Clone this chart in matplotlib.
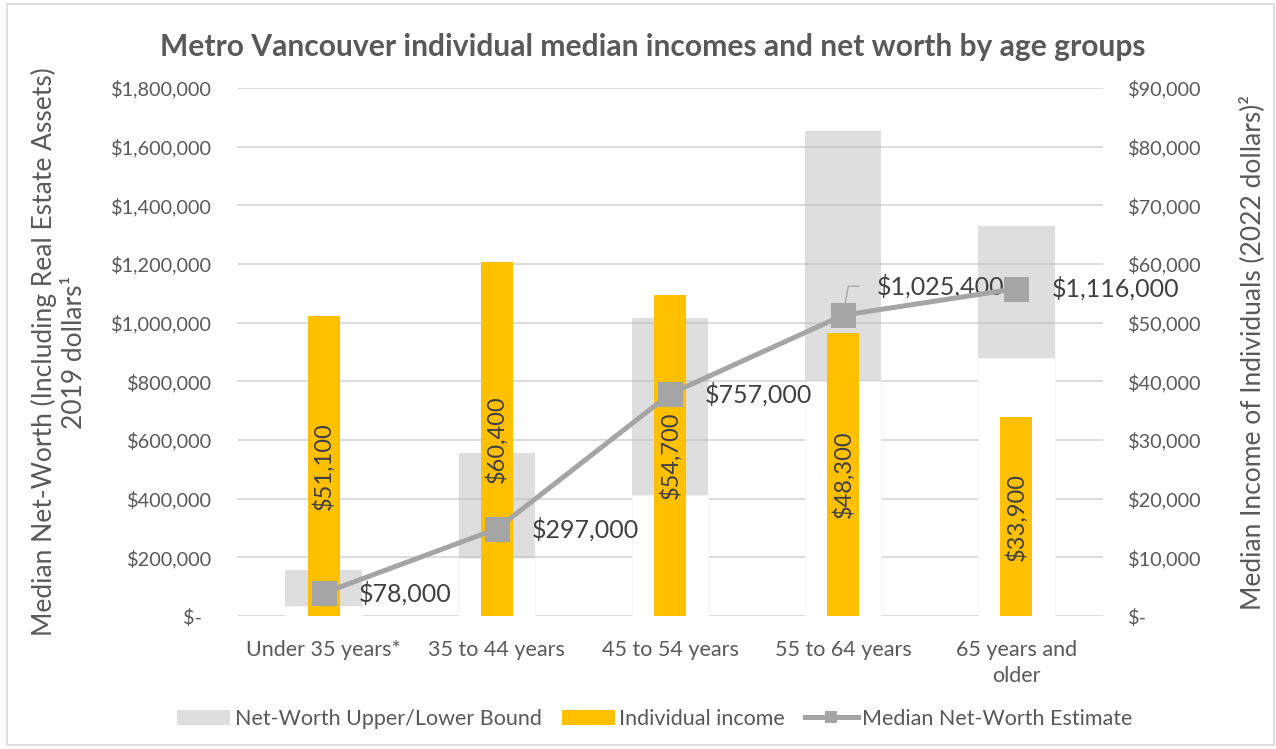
import matplotlib
matplotlib.use("Agg")
import matplotlib.pyplot as plt
from matplotlib.patches import Patch, Rectangle
from matplotlib.lines import Line2D
import numpy as np

plt.rcParams['font.family'] = ['Lato', 'DejaVu Sans']

# ---------------- data ----------------
categories = ["Under 35 years*", "35 to 44 years", "45 to 54 years",
              "55 to 64 years", "65 years and\nolder"]
nw_lower = [34000, 198000, 411000, 800000, 879000]
nw_upper = [157000, 554000, 1016000, 1653000, 1331000]
income = [51100, 60400, 54700, 48300, 33900]
income_labels = ["$51,100", "$60,400", "$54,700", "$48,300", "$33,900"]
nw_median = [78000, 297000, 757000, 1025400, 1116000]
nw_median_labels = ["$78,000", "$297,000", "$757,000", "$1,025,400", "$1,116,000"]

left_ticks = [0, 200000, 400000, 600000, 800000, 1000000, 1200000, 1400000, 1600000, 1800000]
left_ticklabels = ["$-  ", "$200,000", "$400,000", "$600,000", "$800,000", "$1,000,000",
                   "$1,200,000", "$1,400,000", "$1,600,000", "$1,800,000"]
right_ticks = [0, 10000, 20000, 30000, 40000, 50000, 60000, 70000, 80000, 90000]
right_ticklabels = ["$-", "$10,000", "$20,000", "$30,000", "$40,000", "$50,000",
                    "$60,000", "$70,000", "$80,000", "$90,000"]

title = "Metro Vancouver individual median incomes and net worth by age groups"
left_label = "Median Net-Worth (Including Real Estate Assets)\n2019 dollars\u00b9"
right_label = "Median Income of Individuals (2022 dollars)\u00b2"
legend_labels = ["Net-Worth Upper/Lower Bound", "Individual income", "Median Net-Worth Estimate"]

# ---------------- style ----------------
TXT = "#595959"
LBL = "#404040"
GRID = "#D9D9D9"
ORANGE = "#FFC000"
LINEC = "#A5A5A5"

W, H = 1276, 749
fig = plt.figure(figsize=(W / 100, H / 100), dpi=100)
fig.patch.set_facecolor("white")

x0, x1, y0, y1 = 237, 1103, 616, 88
pos = [x0 / W, 1 - y0 / H, (x1 - x0) / W, (y0 - y1) / H]

ax1 = fig.add_axes(pos)
ax2 = ax1.twinx()
ax3 = fig.add_axes(pos, sharex=ax1, sharey=ax1)
ax1.set_zorder(1)
ax2.set_zorder(2)
ax3.set_zorder(3)
for a in (ax2, ax3):
    a.patch.set_visible(False)

x = np.arange(len(categories))
heights = np.array(nw_upper) - np.array(nw_lower)

# gray range bars (primary axis)
ax1.bar(x, nw_lower, width=0.44, color="white", edgecolor="#F4F4F4", linewidth=0.6, zorder=3)
ax1.bar(x, heights, bottom=nw_lower, width=0.44, color="#BFBFBF", alpha=0.5,
        linewidth=0, zorder=3)
ax1.set_ylim(0, 1800000)
ax1.set_xlim(-0.5, len(categories) - 0.5)
ax1.set_yticks(left_ticks)
ax1.set_yticklabels(left_ticklabels)
ax1.yaxis.grid(True, color=GRID, linewidth=1.3, zorder=0)
ax1.set_axisbelow(True)
ax1.set_xticks(x)
ax1.set_xticklabels(categories, linespacing=1.4)
ax1.tick_params(axis="x", length=0, pad=17, labelsize=15.5, labelcolor=TXT)
ax1.tick_params(axis="y", length=0, pad=18, labelsize=14.3, labelcolor=TXT)
for s in ax1.spines.values():
    s.set_visible(False)
ax1.set_ylabel(left_label, fontsize=19, color=TXT, labelpad=17, linespacing=1.25)

# income bars (secondary axis)
ax2.bar(x, income, width=0.185, color=ORANGE, linewidth=0, zorder=3)
ax2.set_ylim(0, 90000)
ax2.set_yticks(right_ticks)
ax2.set_yticklabels(right_ticklabels)
ax2.tick_params(axis="y", length=0, pad=18, labelsize=14.3, labelcolor=TXT)
for s in ax2.spines.values():
    s.set_visible(False)
ax2.set_ylabel(right_label, fontsize=19, color=TXT, labelpad=27)
for xi, v, lab in zip(x, income, income_labels):
    ax2.text(xi, v / 2, lab, rotation=90, ha="center", va="center",
             fontsize=17, color=LBL, zorder=5)

# median line (top layer, primary scale)
ax3.axis("off")
ax3.plot(x, nw_median, color=LINEC, linewidth=3.6, marker="s", markersize=18,
         markeredgewidth=0, zorder=5, solid_capstyle="round")
for i, (xi, v, lab) in enumerate(zip(x, nw_median, nw_median_labels)):
    if i == 3:
        ax3.annotate(lab, xy=(xi, v), xytext=(34, 29), textcoords="offset pixels",
                     ha="left", va="center", fontsize=18, color=LBL,
                     arrowprops=dict(arrowstyle="-", color=LINEC, lw=1.0,
                                     relpos=(0, 0.5), shrinkA=11, shrinkB=9,
                                     connectionstyle="angle,angleA=0,angleB=80,rad=0"))
    else:
        ax3.annotate(lab, xy=(xi, v), xytext=(35, 0), textcoords="offset pixels",
                     ha="left", va="center", fontsize=18, color=LBL)

# title
fig.text(0.5 * (163 + 1143) / W, 1 - 47 / H, title, ha="center", va="center",
         fontsize=21.6, fontweight="bold", color=TXT)

# legend
handles = [Patch(facecolor="#BFBFBF", alpha=0.5, linewidth=0),
           Patch(facecolor=ORANGE, linewidth=0),
           Line2D([0], [0], color=LINEC, linewidth=3.6, marker="s", markersize=9,
                  markeredgewidth=0)]
fig.legend(handles, legend_labels, loc="center", bbox_to_anchor=(655 / W, 1 - 719 / H),
           ncol=3, frameon=False, fontsize=15.5, labelcolor=TXT,
           handlelength=2.45, handleheight=0.75, handletextpad=0.2, columnspacing=0.95)

# figure border
fig.patches.append(Rectangle((7 / W, 4 / H), (1274 - 7) / W, (745 - 4) / H,
                             transform=fig.transFigure, fill=False,
                             edgecolor="#D9D9D9", linewidth=1.2))

fig.savefig("out.png", dpi=100)
